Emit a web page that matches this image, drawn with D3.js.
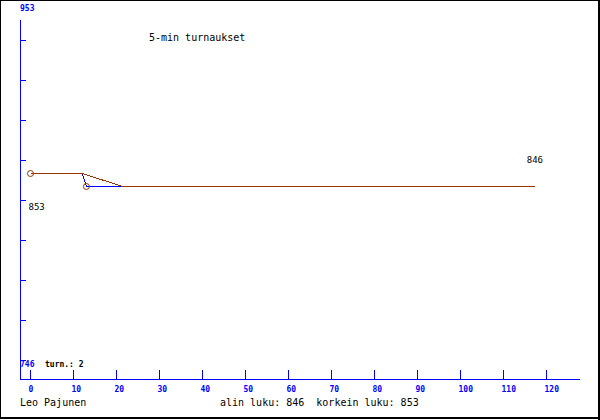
<!DOCTYPE html>
<html><head><meta charset="utf-8">
<script src="https://cdn.jsdelivr.net/npm/d3@7"></script>
<style>html,body{margin:0;padding:0;background:#fff}svg{display:block}</style>
</head><body>
<script>
// Data
const ratingX = [0, 12, 21.5, 117.3];
const ratingY = [853, 853, 846, 846];
const blueX = [12, 13, 21.5];
const blueY = [853, 846, 846];
const tournX = [0, 13];
const tournY = [853, 846];
const xTicks = [0,10,20,30,40,50,60,70,80,90,100,110,120];
const yTickCount = 9;
const yMin = 746, yMax = 953;
const lowest = 846, highest = 853;
const title = "5-min turnaukset";
const player = "Leo Pajunen";

const W = 600, H = 420;
const svg = d3.select("body").append("svg").attr("width", W).attr("height", H);
svg.append("rect").attr("width", W).attr("height", H).attr("fill", "#fff");

const x = d3.scaleLinear().domain([0, 120]).range([30.5, 546.5]);
const y = d3.scaleLinear().domain([yMin, yMax]).range([372.2, -12.2]);
const yTick = d3.scaleLinear().domain([1, yTickCount]).range([40.5, 360.5]);

const blue = "#0000ff", brown = "#993300";
const mono = "'DejaVu Sans Mono', 'Liberation Mono', monospace";

// frame
svg.append("rect").attr("x", 0.5).attr("y", 0.5).attr("width", 598).attr("height", 417.5)
  .attr("fill", "none").attr("stroke", "#000").attr("stroke-width", 1);
svg.append("rect").attr("x", 598).attr("y", 0).attr("width", 2).attr("height", 420).attr("fill", "#000");
svg.append("rect").attr("x", 0).attr("y", 417).attr("width", 600).attr("height", 2).attr("fill", "#000");

const ax = svg.append("g").attr("shape-rendering", "crispEdges").attr("stroke", blue).attr("stroke-width", 1);
ax.append("line").attr("x1", 20.5).attr("x2", 20.5).attr("y1", 20).attr("y2", 380);
ax.append("line").attr("x1", 20).attr("x2", 580).attr("y1", 379.5).attr("y2", 379.5);
ax.selectAll(".yt").data(d3.range(1, yTickCount + 1)).join("line")
  .attr("x1", 20).attr("x2", 26).attr("y1", d => yTick(d)).attr("y2", d => yTick(d));
ax.selectAll(".xt").data(xTicks).join("line")
  .attr("x1", d => x(d)).attr("x2", d => x(d)).attr("y1", 370).attr("y2", 380);

svg.selectAll(".xl").data(xTicks).join("text")
  .attr("x", d => x(d) - 2).attr("y", 392)
  .attr("font-family", mono).attr("font-size", 8).attr("font-weight", "bold")
  .attr("fill", blue).text(d => d);

svg.append("text").attr("x", 20).attr("y", 11).attr("font-family", mono).attr("font-size", 8)
  .attr("font-weight", "bold").attr("fill", blue).text(yMax);
svg.append("text").attr("x", 20).attr("y", 367).attr("font-family", mono).attr("font-size", 8)
  .attr("font-weight", "bold").attr("fill", blue).text(yMin);

// lines
const line = d3.line().x(d => x(d[0])).y(d => y(d[1]));
svg.append("path").datum(blueX.map((d, i) => [d, blueY[i]])).attr("d", line)
  .attr("shape-rendering", "crispEdges")
  .attr("fill", "none").attr("stroke", blue).attr("stroke-width", 1);
svg.append("path").datum(ratingX.map((d, i) => [d, ratingY[i]])).attr("d", line)
  .attr("shape-rendering", "crispEdges")
  .attr("fill", "none").attr("stroke", brown).attr("stroke-width", 1);

svg.selectAll(".pt").data(tournX.map((d, i) => [d, tournY[i]])).join("circle")
  .attr("cx", d => x(d[0])).attr("cy", d => y(d[1])).attr("r", 3)
  .attr("fill", "none").attr("stroke", brown).attr("stroke-width", 1);

// value labels
svg.append("text").attr("x", x(ratingX[0]) - 2).attr("y", y(ratingY[0]) + 36.5)
  .attr("font-family", mono).attr("font-size", 9).attr("fill", "#000").text(ratingY[0]);
svg.append("text").attr("x", x(ratingX[ratingX.length - 1])).attr("y", y(ratingY[ratingY.length - 1]) - 23.5)
  .attr("text-anchor", "middle")
  .attr("font-family", mono).attr("font-size", 9).attr("fill", "#000").text(ratingY[ratingY.length - 1]);

svg.append("text").attr("x", 45).attr("y", 367).attr("font-family", mono).attr("font-size", 8)
  .attr("font-weight", "bold").attr("fill", "#000").text("turn.: " + tournX.length);

svg.append("text").attr("x", 149).attr("y", 41).attr("font-family", mono).attr("font-size", 10)
  .attr("fill", "#000").text(title);
svg.append("text").attr("x", 20).attr("y", 406).attr("font-family", mono).attr("font-size", 10)
  .attr("fill", "#000").text(player);
svg.append("text").attr("x", 220).attr("y", 406).attr("font-family", mono).attr("font-size", 10)
  .attr("fill", "#000").attr("xml:space", "preserve").style("white-space", "pre")
  .text("alin luku: " + lowest + "  korkein luku: " + highest);
</script>
</body></html>
